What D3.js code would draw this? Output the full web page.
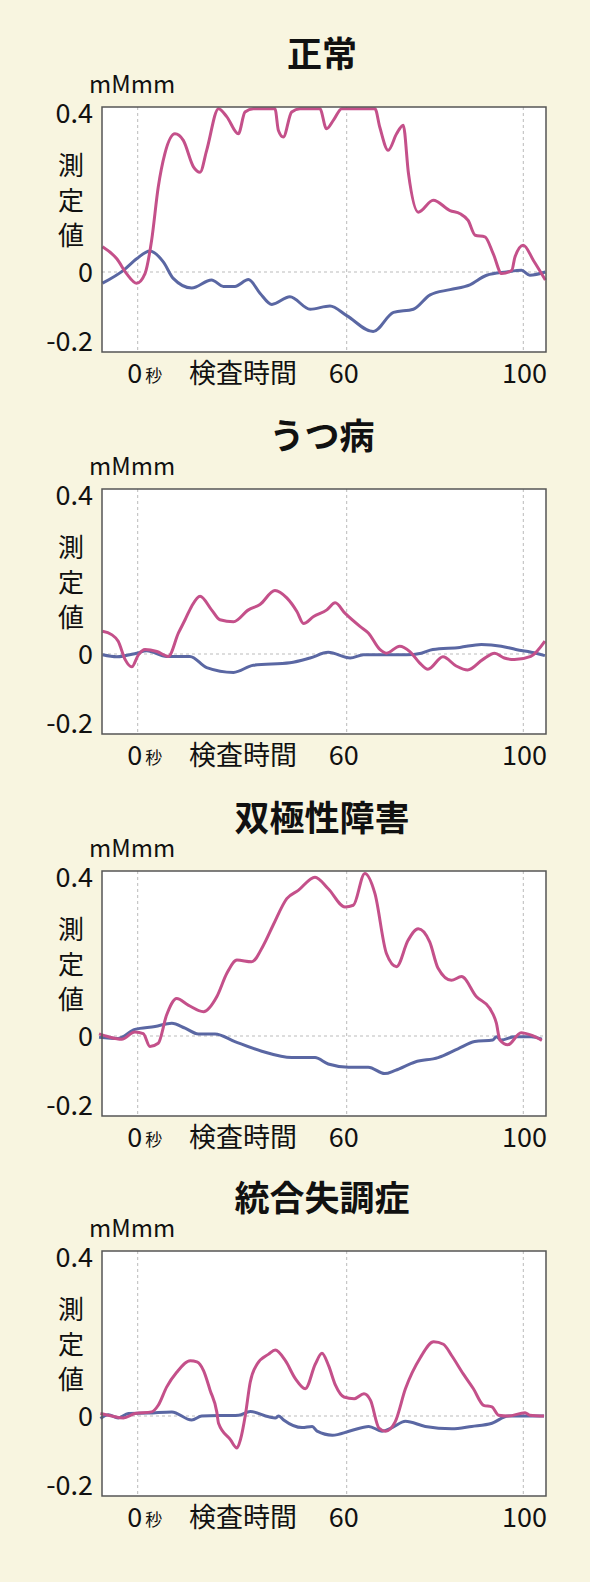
<!DOCTYPE html>
<html><head><meta charset="utf-8">
<script src="https://cdn.jsdelivr.net/npm/d3@7"></script>
<style>
body{margin:0;background:#f8f5e0;}
svg{display:block;font-family:"Noto Sans CJK JP","Noto Sans",sans-serif;}
</style></head>
<body><div class="content"></div>
<script>
var titles = ['正常', 'うつ病', '双極性障害', '統合失調症'];
var yTicks = [0.4, 0, -0.2];
var xGrid = [0, 60, 100];

// [time, value]
var pink1 = [[-10.1,0.061],[-6,0.032],[-3.2,-0.004],[-0.3,-0.028],[2.1,-0.004],[4,0.077],[5.9,0.206],[7.8,0.287],[10.7,0.335],[13.1,0.319],[16,0.255],[17.9,0.242],[19.8,0.295],[23.2,0.396],[25.6,0.376],[28.9,0.335],[30.8,0.388],[33.2,0.396],[39.4,0.396],[40.4,0.343],[41.8,0.327],[44.2,0.388],[46.6,0.396],[52.3,0.396],[54.2,0.347],[56.2,0.368],[58.6,0.396],[66.4,0.396],[67.5,0.351],[69.4,0.295],[71.3,0.335],[72.8,0.356],[74,0.238],[76.2,0.145],[79.6,0.174],[83.4,0.149],[85.7,0.141],[87.5,0.125],[89.1,0.089],[91.3,0.085],[93.2,0.044],[95.1,-0.004],[97.4,0.004],[98.1,0.036],[100,0.065],[102.3,0.028],[105,-0.02]];
var blue1 = [[-10.1,-0.028],[-4.1,0.004],[-0.3,0.032],[3.5,0.051],[7.4,0.024],[10.2,-0.016],[15.5,-0.04],[21.2,-0.02],[24.6,-0.036],[27.9,-0.036],[31.8,-0.019],[35.1,-0.053],[38.5,-0.081],[43.7,-0.062],[49.5,-0.093],[55.2,-0.085],[60,-0.109],[66,-0.149],[70.6,-0.101],[75.1,-0.093],[78.9,-0.057],[83.4,-0.044],[87.9,-0.032],[91.7,-0.008],[96.2,0],[99.6,0.004],[101.5,-0.008],[105,0]];

var pink2 = [[-10.1,0.055],[-7.5,0.047],[-5.6,0.031],[-3.6,-0.014],[-1.7,-0.032],[0.2,-0.002],[2.1,0.011],[5.5,0.006],[8.8,-0.006],[11.7,0.051],[13.6,0.083],[15.5,0.116],[17.9,0.14],[21.2,0.107],[23.6,0.083],[27.5,0.078],[31.8,0.107],[35.1,0.12],[39.4,0.154],[42.8,0.136],[45.7,0.103],[47.6,0.074],[50.5,0.091],[54.3,0.107],[56.7,0.124],[59.5,0.099],[63,0.067],[64.9,0.051],[67.5,0.011],[69,0.002],[72,0.019],[74.3,0.006],[76.5,-0.022],[78.4,-0.038],[81.8,-0.007],[84.8,-0.03],[87.4,-0.04],[90.8,-0.014],[93.5,0.002],[95.7,-0.01],[98,-0.014],[101.7,-0.006],[104.9,0.031]];
var blue2 = [[-10.1,-0.002],[-6,-0.007],[-0.3,0.002],[2.6,0.008],[8.3,-0.006],[15,-0.006],[19.8,-0.034],[27.5,-0.046],[33.2,-0.028],[43.7,-0.022],[49.5,-0.01],[54.7,0.004],[60.8,-0.01],[63.8,-0.002],[73.5,-0.002],[76.9,0.002],[79.5,0.011],[85.6,0.016],[90.5,0.023],[95,0.019],[98.3,0.011],[102.9,0.002],[104.9,-0.004]];

var pink3 = [[-11.1,0.005],[-8.4,-0.002],[-4.6,-0.008],[-0.8,0.01],[1.6,0.006],[3.5,-0.026],[5.9,-0.018],[8.3,0.051],[11.2,0.091],[14.5,0.075],[18.9,0.059],[22.7,0.095],[25.6,0.152],[28.5,0.184],[32.7,0.18],[36.1,0.22],[38.9,0.269],[42.8,0.333],[46.1,0.353],[50.9,0.385],[54.7,0.357],[59.5,0.313],[61.5,0.317],[64.1,0.394],[66.4,0.345],[69,0.2],[71.3,0.168],[73.9,0.232],[76.2,0.26],[78.8,0.228],[80.7,0.164],[83.7,0.135],[86,0.144],[89.4,0.095],[92.4,0.067],[93.9,0.031],[94.7,-0.01],[96.5,-0.022],[99.5,0.008],[101.8,0.002],[104.2,-0.011]];
var blue3 = [[-11.1,-0.003],[-5.6,-0.006],[-0.8,0.016],[5,0.023],[9.8,0.031],[13.6,0.019],[17.4,0.005],[22.2,0.005],[27.9,-0.014],[35.6,-0.038],[44.2,-0.054],[50.9,-0.054],[54.7,-0.07],[60.4,-0.078],[64.9,-0.078],[68.6,-0.094],[71,-0.086],[75.5,-0.065],[80.7,-0.054],[85.2,-0.032],[89,-0.014],[93.1,-0.01],[93.9,-0.002],[95,-0.01],[98,-0.002],[101.8,-0.002],[104.2,-0.008]];

var pink4 = [[-10.7,0.006],[-7.5,0],[-4.1,-0.005],[-0.8,0.006],[4,0.01],[5.9,0.026],[8.3,0.07],[11.2,0.106],[15.1,0.134],[17,0.131],[18.9,0.11],[20.8,0.062],[22.7,0.01],[23.2,-0.018],[26.6,-0.059],[28.5,-0.08],[29.5,-0.059],[30.9,0.002],[32.3,0.082],[34.3,0.126],[37.6,0.15],[39.5,0.16],[42.4,0.134],[45.3,0.09],[48.1,0.066],[51,0.126],[52.9,0.152],[54.8,0.122],[56.8,0.074],[59.2,0.046],[61.7,0.042],[63.9,0.054],[65.4,0.038],[67.3,-0.03],[68.8,-0.038],[71,-0.014],[73.3,0.066],[76.7,0.142],[79.7,0.18],[81.9,0.174],[83.8,0.146],[86.4,0.102],[88.7,0.066],[91,0.026],[92.9,0.022],[94.4,0.002],[96.6,0],[100.4,0.008],[101.5,0.002],[104.7,0]];
var blue4 = [[-10.7,-0.006],[-8.4,0.003],[-5.6,-0.005],[-2.7,0.006],[3.1,0.007],[9.8,0.01],[15.5,-0.01],[18.4,0],[29,0.002],[32.3,0.011],[37.6,-0.002],[39.5,-0.005],[40.5,0],[41.9,-0.01],[47.2,-0.029],[50.1,-0.026],[51.5,-0.038],[55.9,-0.048],[60.9,-0.037],[65,-0.026],[68,-0.038],[70.3,-0.029],[73.3,-0.013],[77.8,-0.026],[83.8,-0.032],[88.3,-0.026],[92.9,-0.018],[96.6,0],[104.7,0]];

var pinks = [pink1, pink2, pink3, pink4];
var blues = [blue1, blue2, blue3, blue4];
var tops = [107, 489, 871, 1251];

var W = 590, H = 1582, plotW = 444, plotH = 245;
var svg = d3.select('.content').append('svg').attr('width', W).attr('height', H);
svg.append('rect').attr('width', W).attr('height', H).attr('fill', '#f8f5e0');

var x = d3.scaleLinear().domain([0, 60, 100]).range([35.7, 244.7, 421.3]);
var y = d3.scaleLinear().domain([-0.2, 0, 0.4]).range([plotH, 165, 0]);
var line = d3.line().x(function(d) { return x(d[0]); }).y(function(d) { return y(d[1]); }).curve(d3.curveMonotoneX);

for (var i = 0; i < 4; i++) {
    var g = svg.append('g').attr('transform', 'translate(102,' + tops[i] + ')');
    g.append('rect').attr('width', plotW).attr('height', plotH).attr('fill', '#fff');
    xGrid.forEach(function(t) {
        g.append('line').attr('x1', x(t)).attr('x2', x(t)).attr('y1', 0).attr('y2', plotH)
            .attr('stroke', '#bbb').attr('stroke-dasharray', '3,3');
    });
    g.append('line').attr('x1', 0).attr('x2', plotW).attr('y1', y(0)).attr('y2', y(0))
        .attr('stroke', '#bbb').attr('stroke-dasharray', '3,3');

    g.append('path').datum(blues[i]).attr('d', line).attr('fill', 'none')
        .attr('stroke', '#5a67a3').attr('stroke-width', 3);
    g.append('path').datum(pinks[i]).attr('d', line).attr('fill', 'none')
        .attr('stroke', '#c4508a').attr('stroke-width', 3);

    g.append('rect').attr('width', plotW).attr('height', plotH).attr('fill', 'none')
        .attr('stroke', '#555').attr('stroke-width', 1.5);

    // title and unit
    g.append('text').attr('x', 220).attr('y', -40).attr('text-anchor', 'middle')
        .attr('font-size', 35).attr('font-weight', 'bold').attr('fill', '#111').text(titles[i]);
    g.append('text').attr('x', -13).attr('y', -14).attr('font-size', 24).attr('fill', '#111').text('mMmm');

    yTicks.forEach(function(v) {
        var yy = y(v) + 10;
        if (v === 0.4) yy = 16;
        if (v === -0.2) yy = plotH - 1;
        g.append('text').attr('x', -9).attr('y', yy).attr('text-anchor', 'end')
            .attr('font-size', 27).attr('fill', '#111').text(v);
    });
    ['測', '定', '値'].forEach(function(c, k) {
        g.append('text').attr('x', -31).attr('y', 68 + k * 35).attr('text-anchor', 'middle')
            .attr('font-size', 26).attr('fill', '#111').text(c);
    });

    var by = plotH + 31;
    g.append('text').attr('x', x(0) - 3).attr('y', by).attr('text-anchor', 'middle')
        .attr('font-size', 27).attr('fill', '#111').text('0');
    g.append('text').attr('x', x(0) + 16).attr('y', by - 1).attr('text-anchor', 'middle')
        .attr('font-size', 17).attr('fill', '#111').text('秒');
    g.append('text').attr('x', 141).attr('y', by).attr('text-anchor', 'middle')
        .attr('font-size', 27).attr('fill', '#111').text('検査時間');
    g.append('text').attr('x', x(60) - 3).attr('y', by).attr('text-anchor', 'middle')
        .attr('font-size', 27).attr('fill', '#111').text('60');
    g.append('text').attr('x', plotW + 1).attr('y', by).attr('text-anchor', 'end')
        .attr('font-size', 27).attr('fill', '#111').text('100');
}
</script>
</body></html>
